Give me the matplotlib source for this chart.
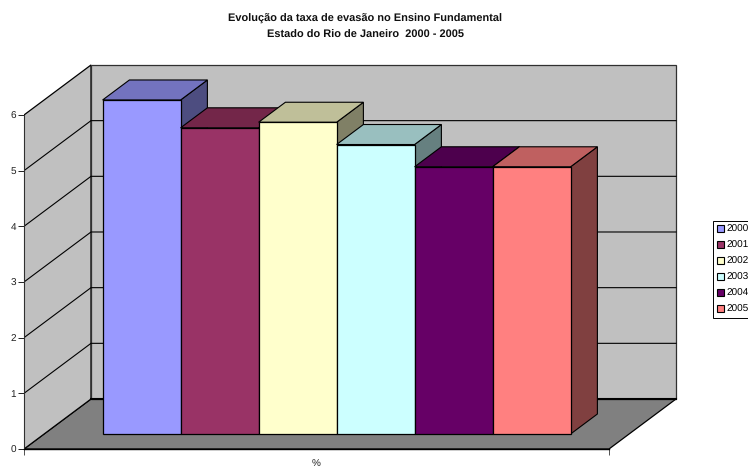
from matplotlib import pyplot as plt
from matplotlib.patches import Patch, Polygon

plt.rcParams["font.family"] = ["Liberation Sans", "DejaVu Sans"]
plt.rcParams["text.hinting"] = "none"
plt.rcParams["text.hinting_factor"] = 1

YEARS = ["2000", "2001", "2002", "2003", "2004", "2005"]
RATES = [6.0, 5.5, 5.6, 5.2, 4.8, 4.8]
FRONT_COLORS = ["#9999FF", "#993366", "#FFFFCC", "#CCFFFF", "#660066", "#FF8080"]
TOP_COLORS = ["#7373BF", "#732649", "#BFBF99", "#99BFBF", "#4D004D", "#BF6060"]
SIDE_COLORS = ["#4D4D80", "#4D1933", "#808066", "#668080", "#330033", "#804040"]
Y_TICKS = [0, 1, 2, 3, 4, 5, 6]

WIDTH, HEIGHT = 748, 468
LEFT_PX, BOTTOM_PX = 24, 449
UNIT_X_PX, UNIT_Y_PX = 78.0, 55.67
FLOOR_WIDTH = 7.5
BAR_GAP = 0.75
DEPTH_X = 67.0 / UNIT_X_PX
DEPTH_Y = 50.0 / UNIT_Y_PX
BAR_NEAR, BAR_FAR = 0.3, 0.7


def project(x, y, depth):
    return x + depth * DEPTH_X, y + depth * DEPTH_Y


def add_face(ax, corners, color, edge="black", lw=1.0, zorder=2):
    points = [project(*corner) for corner in corners]
    ax.add_patch(Polygon(points, closed=True, facecolor=color, edgecolor=edge, linewidth=lw, zorder=zorder, joinstyle="miter"))


def draw_walls(ax, top):
    add_face(ax, [(0, 0, 0), (0, 0, 1), (FLOOR_WIDTH, 0, 1), (FLOOR_WIDTH, 0, 0)], "#808080", lw=0.9, zorder=1)
    add_face(ax, [(0, 0, 0), (0, top, 0), (0, top, 1), (0, 0, 1)], "#C0C0C0", lw=0.9, zorder=1)
    add_face(ax, [(0, 0, 1), (0, top, 1), (FLOOR_WIDTH, top, 1), (FLOOR_WIDTH, 0, 1)], "#C0C0C0", edge="#303030", lw=0.9, zorder=1)

    for value in Y_TICKS[1:-1]:
        xs, ys = zip(project(0, value, 0), project(0, value, 1), project(FLOOR_WIDTH, value, 1))
        ax.plot(xs, ys, color="black", linewidth=0.8, zorder=1.5)

    xs, ys = zip(project(0, 0, 1), project(FLOOR_WIDTH, 0, 1))
    ax.plot(xs, ys, color="black", linewidth=1.5, zorder=1.5)


def draw_bar(ax, left, value, front, top, side):
    right = left + 1
    add_face(ax, [(right, 0, BAR_NEAR), (right, value, BAR_NEAR), (right, value, BAR_FAR), (right, 0, BAR_FAR)], side, lw=0.8)
    add_face(ax, [(left, value, BAR_NEAR), (left, value, BAR_FAR), (right, value, BAR_FAR), (right, value, BAR_NEAR)], top, lw=0.8)
    add_face(ax, [(left, 0, BAR_NEAR), (left, value, BAR_NEAR), (right, value, BAR_NEAR), (right, 0, BAR_NEAR)], front, lw=0.9)


fig = plt.figure(figsize=(WIDTH / 100, HEIGHT / 100), dpi=100)
ax = fig.add_axes([LEFT_PX / WIDTH, (HEIGHT - BOTTOM_PX) / HEIGHT, (WIDTH - LEFT_PX) / WIDTH, BOTTOM_PX / HEIGHT])
ax.set_xlim(0, (WIDTH - LEFT_PX) / UNIT_X_PX)
ax.set_ylim(0, BOTTOM_PX / UNIT_Y_PX)
ax.patch.set_visible(False)

draw_walls(ax, Y_TICKS[-1])
for index, value in enumerate(RATES):
    draw_bar(ax, BAR_GAP + index, value, FRONT_COLORS[index], TOP_COLORS[index], SIDE_COLORS[index])

for name in ["top", "right"]:
    ax.spines[name].set_visible(False)
ax.spines["left"].set_bounds(0, Y_TICKS[-1])
ax.spines["bottom"].set_bounds(0, FLOOR_WIDTH)
ax.spines["left"].set_color("#303030")
ax.spines["left"].set_zorder(3)
ax.spines["bottom"].set_zorder(3)
ax.spines["bottom"].set_linewidth(1.0)

ax.set_yticks(Y_TICKS)
ax.set_xticks([0, FLOOR_WIDTH])
ax.set_xticklabels(["", ""])
ax.tick_params(axis="y", length=4.3, width=0.7, labelsize=7.5, pad=1.5, colors="#202020")
ax.tick_params(axis="x", length=4.6, width=0.7, color="#505050")
ax.text(FLOOR_WIDTH / 2, -15 / UNIT_Y_PX, "%", ha="center", va="center", fontsize=7.2, color="#202020", clip_on=False)

fig.text(
    365.5 / WIDTH,
    1 - 26.7 / HEIGHT,
    "Evolução da taxa de evasão no Ensino Fundamental\nEstado do Rio de Janeiro  2000 - 2005",
    ha="center",
    va="center",
    fontsize=7.9,
    fontweight="bold",
    linespacing=1.75,
    color="#101010",
)

handles = [Patch(facecolor=color, edgecolor="black", linewidth=0.8) for color in FRONT_COLORS]
legend = fig.legend(
    handles,
    YEARS,
    loc="upper left",
    bbox_to_anchor=(713 / WIDTH, 1 - 220.5 / HEIGHT),
    borderaxespad=0,
    fontsize=7.5,
    frameon=True,
    fancybox=False,
    framealpha=1,
    edgecolor="black",
    handlelength=0.62,
    handleheight=0.62,
    handletextpad=0.27,
    labelspacing=0.64,
    borderpad=0.4,
)
legend.get_frame().set_linewidth(0.7)

fig.savefig("out.png", dpi=100)
plt.close(fig)
